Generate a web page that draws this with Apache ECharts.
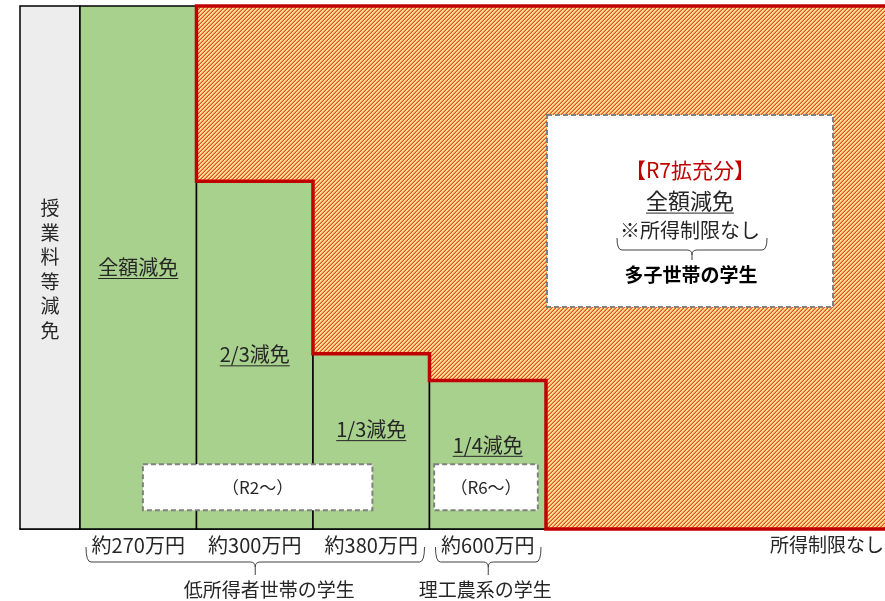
<!DOCTYPE html>
<html>
<head>
<meta charset="utf-8">
<script src="https://cdn.jsdelivr.net/npm/echarts@6/dist/echarts.min.js"></script>
<style>
  html, body { margin: 0; padding: 0; background: #fff; }
  #chart { width: 885px; height: 601px; }
</style>
</head>
<body>
<div id="chart"></div>
<script>
// 所得区分ごとの減免割合
const incomeLabels = ['約270万円', '約300万円', '約380万円', '約600万円'];
const reductionLabels = ['全額減免', '2/3減免', '1/3減免', '1/4減免'];
const reductionValues = [1, 0.665, 0.335, 0.284];
const groupNames = ['低所得者世帯の学生', '理工農系の学生'];
const groupRanges = [[0, 3], [3, 4]];
const startYears = ['（R2～）', '（R6～）'];
const sideTitle = '授業料等減免';
const axisEndLabel = '所得制限なし';

// レイアウト（データ座標）
const X_MIN = -0.515;
const X_MAX = 6.91;
const labelHeights = [0.5, 0.333, 0.19, 0.16];
const yearBoxSpans = [[0.54, 2.51], [3.04, 3.93]];
const yearBoxY = [0.036, 0.124];

const FONT = '"Noto Sans CJK JP", "Noto Sans CJK SC", sans-serif';
const TEXT_COLOR = '#262626';

const measureCtx = document.createElement('canvas').getContext('2d');
function textWidth(text, size, weight) {
  measureCtx.font = (weight || 'normal') + ' ' + size + 'px ' + FONT;
  return measureCtx.measureText(text).width;
}

// 斜線ハッチ
function makeHatch() {
  const c = document.createElement('canvas');
  c.width = 4;
  c.height = 4;
  const ctx = c.getContext('2d');
  const cols = ['#FFE49A', '#FFD88A', '#F7964E', '#EA4A26'];
  for (let y = 0; y < 4; y++) {
    for (let x = 0; x < 4; x++) {
      ctx.fillStyle = cols[(x + y) % 4];
      ctx.fillRect(x, y, 1, 1);
    }
  }
  return c;
}
const hatch = makeHatch();

function braceShape(x0, x1, yTop, yMid, yTip) {
  const xc = (x0 + x1) / 2;
  const r = 5;
  return 'M' + x0 + ',' + yTop +
    ' Q' + x0 + ',' + yMid + ' ' + (x0 + r) + ',' + yMid +
    ' L' + (xc - r) + ',' + yMid +
    ' Q' + xc + ',' + yMid + ' ' + xc + ',' + (yMid + r) +
    ' L' + xc + ',' + yTip +
    ' M' + xc + ',' + (yMid + r) +
    ' Q' + xc + ',' + yMid + ' ' + (xc + r) + ',' + yMid +
    ' L' + (x1 - r) + ',' + yMid +
    ' Q' + x1 + ',' + yMid + ' ' + x1 + ',' + yTop;
}

function underlinedText(text, x, y, size, color) {
  const w = textWidth(text, size);
  return [
    { type: 'text', style: { text: text, x: x, y: y, align: 'center', verticalAlign: 'middle',
      font: size + 'px ' + FONT, fill: color } },
    { type: 'line', shape: { x1: x - w / 2, y1: y + size * 0.55, x2: x + w / 2, y2: y + size * 0.55 },
      style: { stroke: color, lineWidth: 1 } }
  ];
}

const chart = echarts.init(document.getElementById('chart'));

const option = {
  animation: false,
  grid: { left: 20, right: 0, top: 6, bottom: 72 },
  xAxis: {
    type: 'value',
    min: X_MIN,
    max: X_MAX,
    axisLine: { show: true, lineStyle: { color: '#000', width: 1.5 } },
    axisTick: { show: false },
    axisLabel: { show: false },
    splitLine: { show: false }
  },
  yAxis: { type: 'value', min: 0, max: 1, show: false },
  series: [
    {
      // 左の見出し列
      type: 'custom',
      z: 2,
      data: [[X_MIN, 1]],
      renderItem: function (params, api) {
        const p0 = api.coord([X_MIN, 1]);
        const p1 = api.coord([0, 0]);
        return {
          type: 'group',
          children: [
            { type: 'rect', shape: { x: p0[0], y: p0[1], width: p1[0] - p0[0], height: p1[1] - p0[1] },
              style: { fill: '#EDEDED', stroke: '#000', lineWidth: 1.5 } },
            { type: 'text', style: { text: sideTitle.split('').join('\n'), x: (p0[0] + p1[0]) / 2,
              y: (p0[1] + p1[1]) / 2 + 2, align: 'center', verticalAlign: 'middle',
              font: '19px ' + FONT, lineHeight: 24.5, fill: TEXT_COLOR } }
          ]
        };
      }
    },
    {
      // 減免区分の棒
      type: 'custom',
      z: 3,
      data: reductionValues.map(function (v, i) { return [i, v]; }),
      renderItem: function (params, api) {
        const i = api.value(0);
        const v = api.value(1);
        const p0 = api.coord([i, 0]);
        const p1 = api.coord([i + 1, v]);
        const lp = api.coord([i + 0.5, labelHeights[i]]);
        const cx = (p0[0] + p1[0]) / 2;
        return {
          type: 'group',
          children: [
            { type: 'rect', shape: { x: p0[0], y: p1[1], width: p1[0] - p0[0], height: p0[1] - p1[1] },
              style: { fill: '#A9D18E', stroke: '#000', lineWidth: 1.5 } },
            ...underlinedText(reductionLabels[i], lp[0], lp[1], 20, TEXT_COLOR),
            { type: 'text', style: { text: incomeLabels[i], x: cx, y: p0[1] + 16, align: 'center',
              verticalAlign: 'middle', font: '20px ' + FONT, fill: TEXT_COLOR } }
          ]
        };
      }
    },
    {
      // R7拡充分（所得制限なし）
      type: 'custom',
      z: 4,
      data: [[1, 1]],
      renderItem: function (params, api) {
        const n = reductionValues.length;
        const pts = [api.coord([X_MAX, 1]), api.coord([1, 1])];
        for (let i = 1; i < n; i++) {
          pts.push(api.coord([i, reductionValues[i]]));
          pts.push(api.coord([i + 1, reductionValues[i]]));
        }
        pts.push(api.coord([n, 0]));
        pts.push(api.coord([X_MAX, 0]));
        return {
          type: 'group',
          children: [
            { type: 'polygon', shape: { points: pts },
              style: { fill: { image: hatch, repeat: 'repeat' } } },
            { type: 'polyline', shape: { points: pts },
              style: { fill: null, stroke: '#C00000', lineWidth: 3.5, lineJoin: 'miter' } }
          ]
        };
      }
    },
    {
      // 開始年度の枠
      type: 'custom',
      z: 5,
      data: startYears.map(function (s, i) { return [i]; }),
      renderItem: function (params, api) {
        const i = api.value(0);
        const span = yearBoxSpans[i];
        const a = api.coord([span[0], yearBoxY[1]]);
        const b = api.coord([span[1], yearBoxY[0]]);
        return {
          type: 'group',
          children: [
            { type: 'rect', shape: { x: a[0], y: a[1], width: b[0] - a[0], height: b[1] - a[1] },
              style: { fill: '#fff', stroke: '#808080', lineWidth: 2, lineDash: [5, 3] } },
            { type: 'text', style: { text: startYears[i], x: (a[0] + b[0]) / 2, y: (a[1] + b[1]) / 2,
              align: 'center', verticalAlign: 'middle', font: '17px ' + FONT, fill: TEXT_COLOR } }
          ]
        };
      }
    },
    {
      // 対象学生の括弧
      type: 'custom',
      z: 5,
      data: groupNames.map(function (s, i) { return [i]; }),
      renderItem: function (params, api) {
        const i = api.value(0);
        const r = groupRanges[i];
        const a = api.coord([r[0], 0]);
        const b = api.coord([r[1], 0]);
        const x0 = a[0] + 6;
        const x1 = b[0] - 5;
        const base = a[1];
        return {
          type: 'group',
          children: [
            { type: 'path', shape: { pathData: braceShape(x0, x1, base + 18, base + 33, base + 46) },
              style: { fill: null, stroke: '#404040', lineWidth: 1 } },
            { type: 'text', style: { text: groupNames[i], x: (x0 + x1) / 2 + (i === 0 ? 14 : -3), y: base + 61,
              align: 'center', verticalAlign: 'middle', font: '19px ' + FONT, fill: TEXT_COLOR } }
          ]
        };
      }
    },
    {
      // R7拡充分の説明枠
      type: 'custom',
      z: 10,
      data: [[0]],
      renderItem: function () {
        return {
          type: 'group',
          children: [
            { type: 'rect', shape: { x: 547, y: 115, width: 286, height: 192 },
              style: { fill: '#fff', stroke: '#808080', lineWidth: 2, lineDash: [5, 3] } },
            { type: 'text', style: { text: '【R7拡充分】', x: 690, y: 170, align: 'center', verticalAlign: 'middle',
              font: '21px ' + FONT, fill: '#C00000' } },
            ...underlinedText('全額減免', 690, 201, 22, TEXT_COLOR),
            { type: 'text', style: { text: '※所得制限なし', x: 690, y: 230, align: 'center', verticalAlign: 'middle',
              font: '20px ' + FONT, fill: TEXT_COLOR } },
            { type: 'path', shape: { pathData: braceShape(617, 767, 238, 250, 260) },
              style: { fill: null, stroke: '#404040', lineWidth: 1 } },
            { type: 'text', style: { text: '多子世帯の学生', x: 691, y: 275, align: 'center', verticalAlign: 'middle',
              font: 'bold 19px ' + FONT, fill: '#000' } }
          ]
        };
      }
    }
  ],
  graphic: [
    { type: 'text', z: 100, style: { text: axisEndLabel, x: 884, y: 545, align: 'right', verticalAlign: 'middle',
      font: '19px ' + FONT, fill: TEXT_COLOR } }
  ]
};

chart.setOption(option);
</script>
</body>
</html>
